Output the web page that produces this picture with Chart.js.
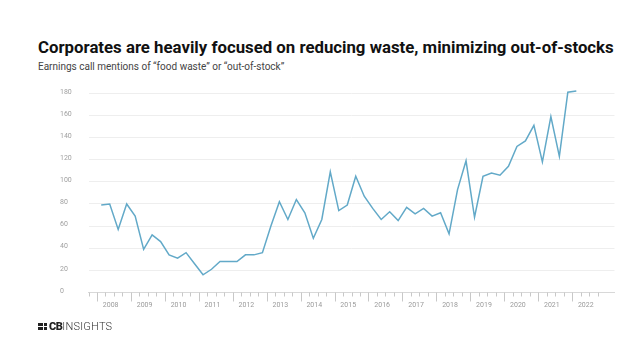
<!DOCTYPE html>
<html lang="en">
<head>
<meta charset="UTF-8">
<title>Food waste / out-of-stock mentions</title>
<script src="https://cdn.jsdelivr.net/npm/chart.js@4.4.0/dist/chart.umd.min.js"></script>
<style>
  body { margin: 0; background: #fff; font-family: Roboto, "Noto Sans", sans-serif; }
  #wrap { position: relative; width: 638px; height: 348px; overflow: hidden; }
  #wrap canvas { position: absolute; left: 0; top: 0; }
  .title { position: absolute; left: 38px; top: 37px; font-size: 16.8px; font-weight: 700; color: #111; white-space: nowrap; }
  .sub { position: absolute; left: 38px; top: 61px; font-size: 10px; color: #444; white-space: nowrap; }
  .logo { position: absolute; left: 38px; top: 320px; height: 12px; display: flex; align-items: center; white-space: nowrap; }
  .logo .icon { width: 9px; height: 7px; display: grid; grid-template-columns: 5px 3px; grid-template-rows: 3px 3px; gap: 1px; margin-right: 2px; }
  .logo .icon span { background: #222; }
  .logo b { font-size: 11px; font-weight: 900; color: #222; letter-spacing: -0.5px; }
  .logo i { font-style: normal; font-size: 11px; font-weight: 300; color: #333; letter-spacing: 0.2px; }
</style>
</head>
<body>
<div id="wrap">
  <div class="title">Corporates are heavily focused on reducing waste, minimizing out-of-stocks</div>
  <div class="sub">Earnings call mentions of “food waste” or “out-of-stock”</div>
  <canvas id="chart" width="638" height="348"></canvas>
  <div class="logo"><div class="icon"><span></span><span></span><span></span><span></span></div><b>CB</b><i>INSIGHTS</i></div>
</div>

<script>
// quarterly mentions, 2008 Q1 .. 2022 Q1
var startYear = 2008;
var years = [2008, 2009, 2010, 2011, 2012, 2013, 2014, 2015, 2016, 2017, 2018, 2019, 2020, 2021, 2022];
var mentions = [
  79, 80, 57, 80,   69, 39, 52, 46,   34, 31, 36, 26,   16, 21, 28, 28,
  28, 34, 34, 36,   60, 82, 66, 84,   72, 49, 66, 109,  74, 79, 105, 87,
  76, 66, 73, 65,   77, 71, 76, 69,   72, 53, 93, 119,  68, 105, 108, 106,
  114, 132, 137, 151, 118, 159, 123, 181, 182
];
var yTicks = [0, 20, 40, 60, 80, 100, 120, 140, 160, 180];

// each point sits in the middle of its quarter
var points = mentions.map(function (v, i) {
  return { x: startYear + i / 4 + 0.125, y: v };
});

// quarter ticks under the axis line, longer ones at year starts
var quarterTicks = {
  id: 'quarterTicks',
  afterDraw: function (chart) {
    var xs = chart.scales.x, ctx = chart.ctx, y0 = chart.chartArea.bottom;
    ctx.save();
    ctx.strokeStyle = '#c8c8c8';
    ctx.lineWidth = 1;
    for (var q = years[0] - 0.25; q <= years[years.length - 1] + 0.76; q += 0.25) {
      var px = Math.round(xs.getPixelForValue(q)) + 0.5;
      var major = Math.abs(q - Math.round(q)) < 0.01;
      ctx.beginPath();
      ctx.moveTo(px, y0);
      ctx.lineTo(px, y0 + (major ? 9 : 4));
      ctx.stroke();
    }
    ctx.restore();
  }
};

new Chart(document.getElementById('chart'), {
  type: 'line',
  data: {
    datasets: [{
      data: points,
      borderColor: '#62a9c8',
      borderWidth: 1.5,
      pointRadius: 0,
      tension: 0,
      clip: false
    }]
  },
  options: {
    responsive: false,
    animation: false,
    layout: { padding: { left: 60, right: 23.5, top: 93.3, bottom: 35.5 } },
    plugins: { legend: { display: false }, tooltip: { enabled: false } },
    scales: {
      x: {
        type: 'linear',
        min: years[0] - 0.25,
        max: years[years.length - 1] + 1.25,
        afterBuildTicks: function (s) { s.ticks = years.map(function (y) { return { value: y }; }); },
        afterFit: function (s) { s.height = 20; },
        grid: { drawOnChartArea: false, drawTicks: false },
        border: { display: true, color: '#d8d8d8' },
        ticks: {
          autoSkip: false,
          maxRotation: 0,
          padding: 9,
          labelOffset: 13.7,
          color: '#9a9a9a',
          font: { family: 'Roboto', size: 7 },
          callback: function (v) { return String(v); }
        }
      },
      y: {
        min: 0,
        max: 180,
        afterBuildTicks: function (s) { s.ticks = yTicks.map(function (v) { return { value: v }; }); },
        afterFit: function (s) { s.width = 28.5; },
        grid: { color: '#eeeeee', drawTicks: false },
        border: { display: false },
        ticks: {
          crossAlign: 'far',
          labelOffset: -1.5,
          color: '#a0a0a0',
          font: { family: 'Roboto', size: 7 }
        }
      }
    }
  },
  plugins: [quarterTicks]
});
</script>
</body>
</html>
